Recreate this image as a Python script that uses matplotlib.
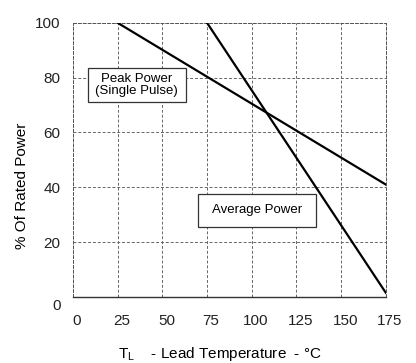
import matplotlib.pyplot as plt
import matplotlib.transforms as mtransforms
from matplotlib.patches import Rectangle

plt.rcParams['font.family'] = ['Liberation Sans', 'DejaVu Sans']

# derating curves
peak_temp = [25, 175]
peak_pct = [100, 41]
avg_temp = [75, 175]
avg_pct = [100, 1.5]

x_ticks = [0, 25, 50, 75, 100, 125, 150, 175]
y_ticks = [0, 20, 40, 60, 80, 100]

fig = plt.figure(figsize=(4.16, 3.63), dpi=100)
ax = fig.add_axes([0.1755, 0.182, 0.752, 0.755])

ax.plot(peak_temp, peak_pct, color='black', lw=1.6, zorder=3)
ax.plot(avg_temp, avg_pct, color='black', lw=1.6, zorder=3)

ax.set_xlim(0, 175)
ax.set_ylim(0, 100)
ax.set_xticks(x_ticks)
ax.set_yticks(y_ticks)
ax.tick_params(length=0, labelsize=11, pad=9, colors='#222222')
ax.tick_params(axis='x', pad=12)

# the original tick labels are nudged a little right / down
for lbl in ax.get_xticklabels():
    lbl.set_transform(lbl.get_transform() +
                      mtransforms.ScaledTranslation(4 / 100, 0, fig.dpi_scale_trans))
lbl0 = ax.get_yticklabels()[0]
lbl0.set_transform(lbl0.get_transform() +
                   mtransforms.ScaledTranslation(0, -8 / 100, fig.dpi_scale_trans))

ax.grid(True, color='#666666', linestyle=(0, (3, 2)), lw=0.7)
for side in ['left', 'top', 'right']:
    ax.spines[side].set_linestyle((0, (3, 2)))
    ax.spines[side].set_color('#555555')
    ax.spines[side].set_linewidth(0.7)
ax.spines['bottom'].set_color('#333333')
ax.spines['bottom'].set_linewidth(1.0)

ax.set_ylabel('% Of Rated Power', fontsize=11)
ax.yaxis.set_label_coords(-0.14, 0.405)
ax.set_xlabel(r'$\mathregular{T_L}$    - Lead Temperature  - °C', fontsize=11)
ax.xaxis.set_label_coords(0.47, -0.175)

# label boxes
ax.add_patch(Rectangle((8.4, 71.2), 54.6, 12.4, facecolor='white',
                       edgecolor='#333333', lw=0.9, zorder=4))
ax.text(35.7, 77.4, 'Peak Power\n(Single Pulse)', ha='center', va='center',
        fontsize=9.5, linespacing=1.05, zorder=5)
ax.add_patch(Rectangle((70, 25.5), 66, 12.1, facecolor='white',
                       edgecolor='#333333', lw=0.9, zorder=4))
ax.text(103, 31.6, 'Average Power', ha='center', va='center',
        fontsize=9.5, zorder=5)

fig.savefig('out.png', dpi=100)
